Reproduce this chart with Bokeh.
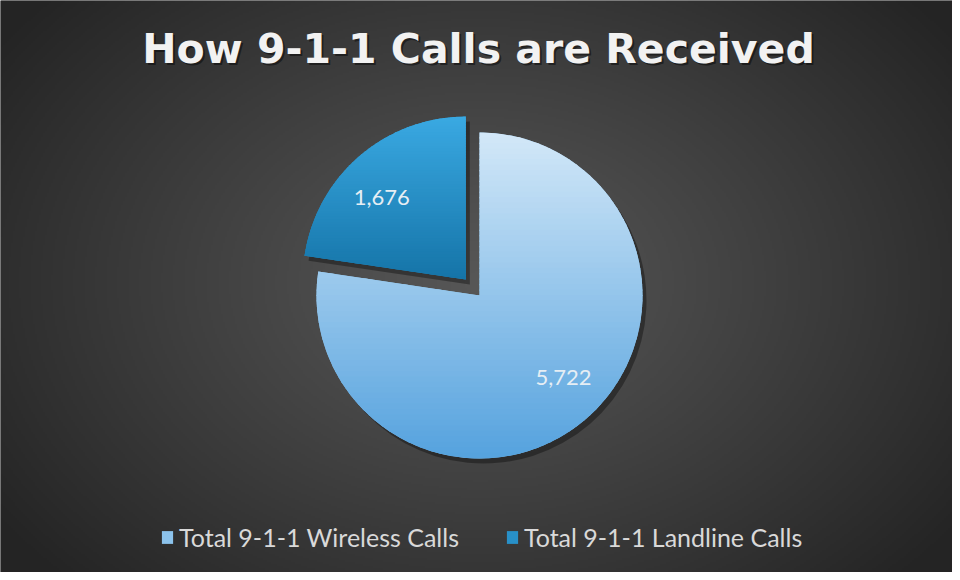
import numpy as np
from bokeh.plotting import figure
from bokeh.models import Legend, LegendItem, ColumnDataSource, Range1d
from bokeh.core.properties import value
from bokeh.embed import file_html
from bokeh.resources import INLINE

# ---- data ----
title_text = "How 9-1-1 Calls are Received"
categories = ["Total 9-1-1 Wireless Calls", "Total 9-1-1 Landline Calls"]
calls = [5722, 1676]
labels = ["5,722", "1,676"]
colors_top = ["#d3e8f8", "#3aa9e2"]
colors_bot = ["#55a2de", "#1574a8"]
colors_mid = ["#8cc3ec", "#2890c8"]
explode = [0.0, 21.0]

# ---- layout ----
W, H = 952, 572
CX, CY, R = 479.0, 277.0, 163.0
LABEL_SHIFT = 0.085  # radians, label placement tweak

p = figure(width=W, height=H, x_range=Range1d(0, W), y_range=Range1d(0, H),
           output_backend="svg", toolbar_location=None, min_border=0)
p.axis.visible = False
p.grid.visible = False
p.outline_line_color = None
p.background_fill_color = "#2b2b2b"
p.border_fill_color = "#2b2b2b"

# radial background gradient
nx, ny = W // 2, H // 2
gx, gy = np.meshgrid(np.linspace(0, W, nx), np.linspace(0, H, ny))
d = np.sqrt(((gx - 480) / (W * 0.62)) ** 2 + ((gy - 290) / (H * 0.75)) ** 2)
d = np.clip(d, 0, 1)
lev = (0x57 - (0x57 - 0x24) * d ** 1.1).astype(np.uint32)
img = (255 << 24) | (lev << 16) | (lev << 8) | lev
p.image_rgba(image=[img.astype(np.uint32)], x=0, y=0, dw=W, dh=H)

# ---- pie geometry from data ----
vals = np.array(calls, dtype=float)
frac = vals / vals.sum()
cum = np.concatenate([[0], np.cumsum(frac)])
start = np.pi / 2 - cum[:-1] * 2 * np.pi
end = np.pi / 2 - cum[1:] * 2 * np.pi
mid = (start + end) / 2
cxs = [CX + e * np.cos(m) for e, m in zip(explode, mid)]
cys = [CY + e * np.sin(m) for e, m in zip(explode, mid)]

src = ColumnDataSource(dict(x=cxs, y=cys, start=start, end=end, color=colors_mid,
                            cat=categories))

# drop shadow
p.wedge(x=[x + 4 for x in cxs], y=[y - 5 for y in cys], radius=R, start_angle=start,
        end_angle=end, direction="clock", fill_color="black", fill_alpha=0.35,
        line_color=None)

wedges = p.wedge(x="x", y="y", radius=R, start_angle="start", end_angle="end",
                 direction="clock", fill_color="color", line_color=None, source=src)


def hex2rgb(h):
    h = h.lstrip("#")
    return np.array([int(h[i:i + 2], 16) for i in (0, 2, 4)], dtype=float)


def sector(cx, cy, a0, a1):
    t = np.linspace(a0, a1, 200)
    xs = [cx] + list(cx + R * np.cos(t))
    ys = [cy] + list(cy + R * np.sin(t))
    return list(zip(xs, ys))


def clip(pts, y0, above):
    def inside(pt):
        return pt[1] >= y0 if above else pt[1] <= y0

    def inter(a, b):
        t = (y0 - a[1]) / (b[1] - a[1])
        return (a[0] + t * (b[0] - a[0]), y0)

    out = []
    for i in range(len(pts)):
        cur, prev = pts[i], pts[i - 1]
        if inside(cur):
            if not inside(prev):
                out.append(inter(prev, cur))
            out.append(cur)
        elif inside(prev):
            out.append(inter(prev, cur))
    return out


# gradient bands within each slice
NB = 60
bx, by, bc = [], [], []
for i in range(len(calls)):
    poly = sector(cxs[i], cys[i], start[i], end[i])
    ytop = max(pt[1] for pt in poly)
    ybot = min(pt[1] for pt in poly)
    ct, cb = hex2rgb(colors_top[i]), hex2rgb(colors_bot[i])
    edges = np.linspace(ytop, ybot, NB + 1)
    for k in range(NB):
        hi, lo = edges[k] + 0.6, edges[k + 1] - 0.6
        q = clip(clip(poly, lo, True), hi, False)
        if len(q) < 3:
            continue
        f = (k + 0.5) / NB
        c = ct + (cb - ct) * f
        bx.append([pt[0] for pt in q])
        by.append([pt[1] for pt in q])
        bc.append("#%02x%02x%02x" % tuple(int(round(v)) for v in c))
p.patches(xs=bx, ys=by, fill_color=bc, line_color=None)

# data labels
lx = [cxs[i] + 0.72 * R * np.cos(mid[i] + LABEL_SHIFT) for i in range(len(calls))]
ly = [cys[i] + 0.72 * R * np.sin(mid[i] + LABEL_SHIFT) for i in range(len(calls))]
p.text(x=lx, y=ly, text=labels, text_color="#e6eef4", text_font=value("Lato"),
       text_font_size="22px", text_align="center", text_baseline="middle")

# title with shadow
TX, TY = 478, 524
p.text(x=[TX + 2], y=[TY - 2], text=[title_text], text_color="black", text_alpha=0.45,
       text_font=value("DejaVu Sans"), text_font_style="bold", text_font_size="41px",
       text_align="center", text_baseline="middle")
p.text(x=[TX], y=[TY], text=[title_text], text_color="#f2f2f2",
       text_font=value("DejaVu Sans"), text_font_style="bold", text_font_size="41px",
       text_align="center", text_baseline="middle")

legend = Legend(items=[LegendItem(label=categories[i], renderers=[wedges], index=i)
                       for i in range(len(calls))],
                orientation="horizontal", location=(160, 20),
                background_fill_alpha=0, border_line_color=None,
                label_text_color="#d9d9d9", label_text_font="Lato",
                label_text_font_size="25px", glyph_width=14, glyph_height=16,
                label_standoff=5, spacing=46, padding=0, margin=0)
p.add_layout(legend)

open("out.html", "w").write(file_html(p, INLINE))
